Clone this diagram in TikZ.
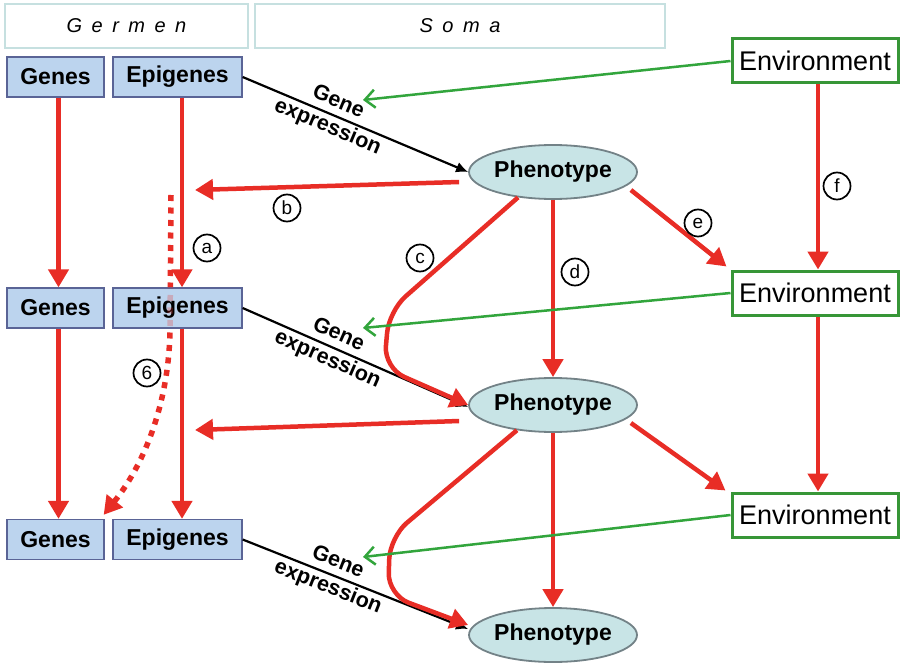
\documentclass[tikz,border=0pt]{standalone}
\usepackage{fontspec}
\setmainfont{Liberation Sans}
\usetikzlibrary{arrows.meta,shapes.geometric}
\definecolor{redc}{RGB}{232,45,38}
\definecolor{greenc}{RGB}{50,165,60}
\definecolor{envc}{RGB}{55,150,55}
\definecolor{hdrc}{RGB}{198,224,224}
\definecolor{gboxf}{RGB}{188,212,238}
\definecolor{gboxd}{RGB}{90,100,150}
\definecolor{phf}{RGB}{200,228,230}
\definecolor{phd}{RGB}{115,130,135}
\pgfdeclarelayer{background}
\pgfsetlayers{background,main}
\newcommand{\lspc}{\hspace{9.5pt}}
\begin{document}
\begin{tikzpicture}[x=1pt,y=-1pt,
  hdr/.style={draw=hdrc, line width=2pt, fill=white, inner sep=0pt, minimum height=44pt, font=\fontsize{20}{23}\itshape\selectfont},
  gbox/.style={draw=gboxd, fill=gboxf, line width=1.3pt, inner sep=0pt, minimum height=40pt, font=\fontsize{23}{26}\bfseries\selectfont},
  pheno/.style={ellipse, draw=phd, fill=phf, line width=1.8pt, inner sep=0pt, minimum width=168pt, minimum height=54pt, font=\fontsize{23}{26}\bfseries\selectfont},
  envbox/.style={draw=envc, line width=3pt, fill=white, inner sep=0pt, minimum width=166pt, minimum height=44pt, font=\fontsize{27}{30}\selectfont},
  redarr/.style={draw=redc, line width=4.5pt, -{Triangle[length=18pt,width=20pt]}},
  grarr/.style={draw=greenc, line width=2.5pt, -{Straight Barb[length=10pt,width=18pt]}},
  blkarr/.style={draw=black, line width=2.2pt, -{Latex[length=12pt,width=11pt]}},
  dotarr/.style={draw=redc, line width=5.5pt, dash pattern=on 6pt off 6.5pt, -{Triangle[length=18pt,width=20pt]}},
  lbl/.style={circle, draw=black, line width=1.7pt, fill=white, inner sep=0pt, minimum size=27pt, font=\fontsize{19}{22}\selectfont},
  gexp/.style={font=\fontsize{21.5}{27}\bfseries\selectfont, align=center, sloped, inner sep=0pt}
]
\useasboundingbox (0,0) rectangle (901,663);
\begin{pgfonlayer}{background}
\fill[white] (0,0) rectangle (901,663);
\end{pgfonlayer}

% headers
\node[hdr, minimum width=243pt] (germ) at (126.5,26) {G\lspc e\lspc r\lspc m\lspc e\lspc n};
\node[hdr, minimum width=410pt] (soma) at (460,26) {S\lspc o\lspc m\lspc a};

% germen boxes
\node[gbox, minimum width=97pt] (g1) at (55.5,77) {Genes};
\node[gbox, minimum width=129pt] (e1) at (177.5,77) {Epigenes};
\node[gbox, minimum width=97pt] (g2) at (55.5,308) {Genes};
\node[gbox, minimum width=129pt] (e2) at (177.5,308) {Epigenes};
\node[gbox, minimum width=97pt] (g3) at (55.5,539.5) {Genes};
\node[gbox, minimum width=129pt] (e3) at (177.5,539.5) {Epigenes};

% phenotypes
\node[pheno] (p1) at (553,172) {Phenotype};
\node[pheno] (p2) at (553,405) {Phenotype};
\node[pheno] (p3) at (553,635) {Phenotype};

% environments
\node[envbox] (v1) at (815,61) {Environment};
\node[envbox] (v2) at (815,293) {Environment};
\node[envbox] (v3) at (815,515) {Environment};

% free ends
\coordinate (b1) at (195,190);
\coordinate (b2) at (195,430);
\coordinate (gx1) at (363,100);
\coordinate (gx2) at (363,328);
\coordinate (gx3) at (363,557);
\coordinate (d0) at (171,195);

% dotted arrow (behind boxes)
\begin{pgfonlayer}{background}
\draw[dotarr] (d0) -- (170,330) .. controls (169,400) and (146,462) .. ([xshift=-1pt,yshift=4pt]g3.north east);
\end{pgfonlayer}
\begin{scope}
\clip (e2.south west) rectangle (e2.north east);
\draw[dotarr, opacity=0.25] (d0) -- (170,330) .. controls (169,400) and (146,462) .. ([xshift=-1pt,yshift=4pt]g3.north east);
\end{scope}

% gene expression
\draw[blkarr] (e1.east) -- (p1.west) node[gexp,pos=0.4]{Gene\\expression};
\draw[blkarr] (e2.east) -- ([yshift=-2pt]p2.west) node[gexp,pos=0.4]{Gene\\expression};
\draw[blkarr] (e3.east) -- ([yshift=6pt]p3.west) node[gexp,pos=0.4]{Gene\\expression};

% germline vertical
\draw[redarr] ([xshift=3pt]g1.south) -- ([xshift=3pt]g2.north);
\draw[redarr] ([xshift=3pt]g2.south) -- ([xshift=3pt]g3.north);
\draw[redarr] ([xshift=4.5pt]e1.south) -- ([xshift=4.5pt]e2.north);
\draw[redarr] ([xshift=4.5pt]e2.south) -- ([xshift=4.5pt]e3.north);

% (b)
\draw[redarr] ([xshift=-9pt,yshift=-10pt]p1.west) -- (b1);
\draw[redarr] ([xshift=-9pt,yshift=-16pt]p2.west) -- (b2);

% (c)
\draw[redarr, rounded corners=22pt] (p1.216) -- (389,311) -- (384,368) -- (p2.west);
\draw[redarr, rounded corners=22pt] (p2.215) -- (390,537) -- (388,595) -- ([yshift=10pt]p3.west);

% (d)
\draw[redarr] (p1.south) -- (p2.north);
\draw[redarr] (p2.south) -- (p3.north);

% (e)
\draw[redarr] ([xshift=-7pt,yshift=-18pt]p1.east) -- ([xshift=-4pt,yshift=3pt]v2.north west);
\draw[redarr] ([xshift=-7pt,yshift=-18pt]p2.east) -- ([xshift=-5pt,yshift=1pt]v3.north west);

% (f)
\draw[redarr] ([xshift=3pt]v1.south) -- ([xshift=3pt]v2.north);
\draw[redarr] ([xshift=3pt]v2.south) -- ([xshift=3pt]v3.north);

% environment influence
\draw[grarr] (v1.west) -- (gx1);
\draw[grarr] (v2.west) -- (gx2);
\draw[grarr] (v3.west) -- (gx3);

% labels
\node[lbl] (la) at (207,248) {a};
\node[lbl] (lb) at (287,208) {b};
\node[lbl] (lc) at (420,258) {c};
\node[lbl] (ld) at (575,272) {d};
\node[lbl] (le) at (698,223) {e};
\node[lbl] (lf) at (837,186) {f};
\node[lbl] (l6) at (147,373) {6};
\end{tikzpicture}
\end{document}
